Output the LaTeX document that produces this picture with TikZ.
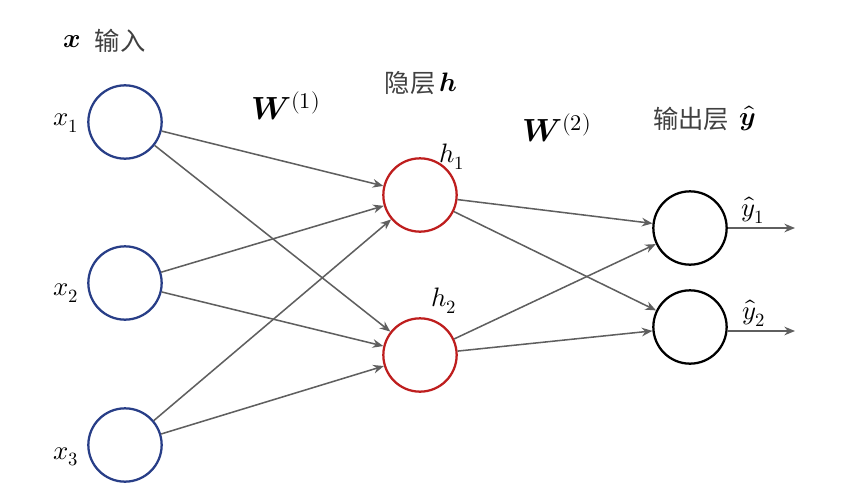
\documentclass[tikz,border=0pt]{standalone}
\usepackage{amsmath,amssymb}
\usepackage{unicode-math}
\setmathfont{Latin Modern Math}
\newfontfamily\cjk{Noto Sans CJK SC}
\usetikzlibrary{arrows.meta}

\definecolor{inblue}{RGB}{40,62,135}
\definecolor{hidred}{RGB}{190,30,30}
\definecolor{edgegray}{RGB}{95,95,95}
\definecolor{textgray}{RGB}{64,64,64}

\begin{document}
\begin{tikzpicture}[x=0.75pt,y=-0.75pt,
  every node/.style={font=\fontsize{20}{24}\selectfont},
  neuron/.style={circle,draw,line width=1.7pt,minimum size=55pt,inner sep=0pt},
  link/.style={draw=edgegray,line width=1.15pt,-{Stealth[length=8pt,width=6.5pt]}},
  cjklabel/.style={text=textgray,font=\cjk\fontsize{19}{22}\selectfont}]
  \useasboundingbox (0,0) rectangle (847,489);
  % neurons
  \node[neuron,draw=inblue] (x1) at (125,122) {};
  \node[neuron,draw=inblue] (x2) at (125,283) {};
  \node[neuron,draw=inblue] (x3) at (125,445) {};
  \node[neuron,draw=hidred] (h1) at (420,195) {};
  \node[neuron,draw=hidred] (h2) at (420,355) {};
  \node[neuron,draw=black] (y1) at (690,228) {};
  \node[neuron,draw=black] (y2) at (690,327) {};
  \coordinate (o1) at (795,228);
  \coordinate (o2) at (795,331);
  % labels
  \node (lx1) at (66,123) {$x_1$};
  \node (lx2) at (66,293) {$x_2$};
  \node (lx3) at (66,457) {$x_3$};
  \node (lh1) at (452,157) {$h_1$};
  \node (lh2) at (444,301) {$h_2$};
  \node (ly1) at (753,210) {$\hat{y}_1$};
  \node (ly2) at (754,313) {$\hat{y}_2$};
  \node (inx) at (72,42) {$\symbfit{x}$};
  \node[cjklabel] (inlab) at (120,41) {输入};
  \node[cjklabel] (hidlab) at (410,83) {隐层};
  \node (hidh) at (448,82) {$\symbfit{h}$};
  \node[cjklabel] (outlab) at (691,119) {输出层};
  \node (outy) at (748,118) {$\hat{\symbfit{y}}$};
  \node[font=\fontsize{24}{28}\selectfont] (w1) at (286,106) {$\symbfit{W}^{(1)}$};
  \node[font=\fontsize{24}{28}\selectfont] (w2) at (557,128) {$\symbfit{W}^{(2)}$};
  % connections
  \foreach \i in {x1,x2,x3}
    \foreach \j in {h1,h2}
      \draw[link] (\i) -- (\j);
  \foreach \i in {h1,h2}
    \foreach \j in {y1,y2}
      \draw[link] (\i) -- (\j);
  \draw[link] (y1) -- (o1);
  \draw[link] (y2.east |- o2) -- (o2);
\end{tikzpicture}
\end{document}
